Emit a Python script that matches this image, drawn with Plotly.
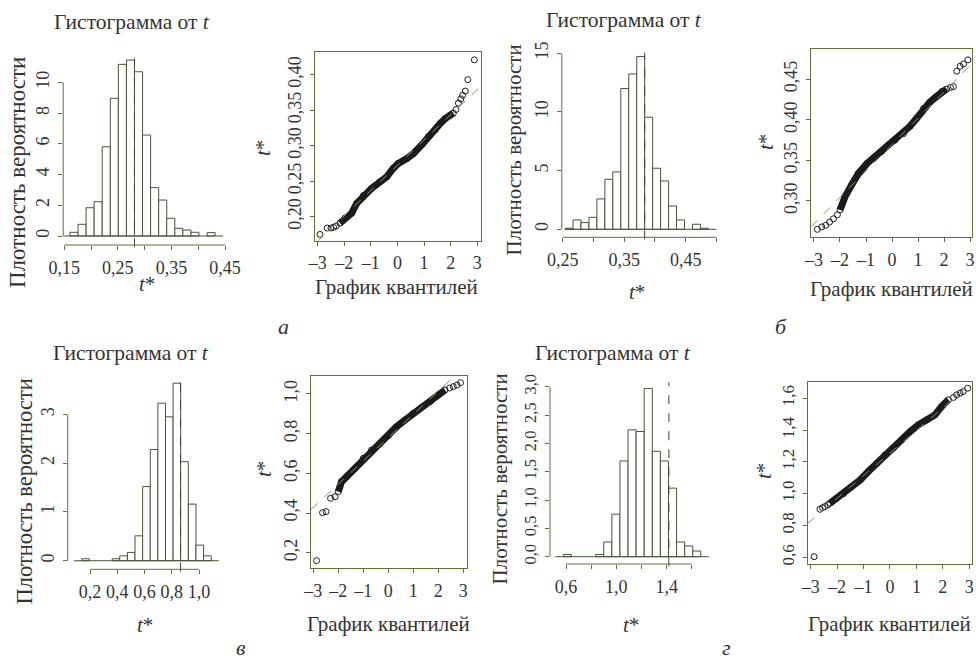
import plotly.graph_objects as go

W, H = 976, 662
FONT = "Liberation Serif"
TXT = "#333333"
AX = "#5f6f3c"
BARLINE = "#46553a"
PT = "#1b1b1b"
REF = "#7f9a5e"

# ---------------- data ----------------
# histogram a
hist_a_edges = [0.1456, 0.1606, 0.1757, 0.1907, 0.2058, 0.2208, 0.2359, 0.2509, 0.2660, 0.2810, 0.2961,
                0.3111, 0.3262, 0.3412, 0.3563, 0.3713, 0.3864, 0.4014, 0.4165, 0.4315, 0.4466]
hist_a_density = [0, 0.24, 0.76, 1.84, 2.23, 5.81, 8.96, 11.17, 11.45, 10.69, 6.57, 3.15, 2.34, 1.15,
                  0.50, 0.39, 0.24, 0, 0.22, 0]
hist_a_t0 = 0.281
# histogram б
hist_b_edges = [0.2538, 0.2668, 0.2797, 0.2927, 0.3056, 0.3186, 0.3315, 0.3445, 0.3574, 0.3704, 0.3833,
                0.3963, 0.4092, 0.4222, 0.4351, 0.4481, 0.4610, 0.4740, 0.4869, 0.4999]
hist_b_density = [0.09, 0.8, 0.57, 1.02, 2.59, 4.26, 4.89, 12.0, 13.24, 14.72, 9.55, 5.2, 4.12, 1.99,
                  0.8, 0, 0.43, 0.09, 0]
hist_b_t0 = 0.3833
# histogram в
hist_c_edges = [0.0831, 0.1390, 0.1949, 0.2508, 0.3067, 0.3626, 0.4185, 0.4744, 0.5303, 0.5862, 0.6421,
                0.6980, 0.7539, 0.8098, 0.8657, 0.9216, 0.9775, 1.0334, 1.0893, 1.1452]
hist_c_density = [0, 0.04, 0, 0, 0, 0.04, 0.1, 0.17, 0.51, 1.52, 2.28, 3.23, 2.95, 3.64, 2.03, 1.16,
                  0.32, 0.1, 0]
hist_c_t0 = 0.864
# histogram г
hist_d_edges = [0.5145, 0.5788, 0.6431, 0.7074, 0.7717, 0.8360, 0.9003, 0.9646, 1.0289, 1.0932, 1.1575,
                1.2218, 1.2861, 1.3504, 1.4147, 1.4790, 1.5433, 1.6076, 1.6719, 1.7362]
hist_d_density = [0, 0.04, 0, 0, 0, 0.04, 0.26, 0.75, 1.69, 2.24, 2.21, 2.97, 1.86, 1.69, 1.21, 0.26,
                  0.19, 0.1, 0]
hist_d_t0 = 1.418

# normal QQ plots: theoretical quantile, ordered t*
qq_a_x = [-2.91, -2.64, -2.50, -2.40, -2.30, -2.16, -1.97, -1.72, -1.53, -1.28, -0.97, -0.66, -0.41, -0.16,
          0.03, 0.35, 0.60, 0.91, 1.16, 1.41, 1.60, 1.79, 1.97, 2.10, 2.20, 2.29, 2.38, 2.45, 2.55, 2.64, 2.89]
qq_a_y = [0.175, 0.184, 0.184, 0.185, 0.187, 0.191, 0.198, 0.205, 0.219, 0.230, 0.240, 0.249, 0.256, 0.268,
          0.275, 0.282, 0.289, 0.301, 0.313, 0.322, 0.331, 0.338, 0.343, 0.346, 0.351, 0.360, 0.366, 0.371,
          0.377, 0.393, 0.421]
qq_a_mean, qq_a_sd = 0.2725, 0.0356

qq_b_x = [-2.87, -2.70, -2.55, -2.40, -2.25, -2.10, -2.00, -1.81, -1.55, -1.29, -0.97, -0.72, -0.40, -0.14,
          0.12, 0.44, 0.69, 0.95, 1.21, 1.46, 1.72, 1.91, 2.10, 2.25, 2.36, 2.49, 2.62, 2.75, 2.92]
qq_b_y = [0.265, 0.268, 0.270, 0.274, 0.278, 0.283, 0.289, 0.305, 0.320, 0.334, 0.346, 0.353, 0.361, 0.369,
          0.375, 0.383, 0.392, 0.402, 0.414, 0.422, 0.429, 0.435, 0.438, 0.440, 0.441, 0.460, 0.466, 0.469,
          0.474]
qq_b_mean, qq_b_sd = 0.3695, 0.0325

qq_c_x = [-2.87, -2.63, -2.49, -2.31, -2.13, -2.00, -1.87, -1.67, -1.33, -1.00, -0.67, -0.33, 0.00, 0.33,
          0.67, 1.00, 1.33, 1.67, 2.00, 2.27, 2.45, 2.60, 2.75, 2.89]
qq_c_y = [0.160, 0.402, 0.407, 0.474, 0.482, 0.508, 0.558, 0.583, 0.625, 0.676, 0.718, 0.751, 0.790, 0.835,
          0.869, 0.903, 0.933, 0.961, 0.995, 1.020, 1.030, 1.037, 1.045, 1.057]
qq_c_mean, qq_c_sd = 0.78, 0.117

qq_d_x = [-2.87, -2.65, -2.55, -2.46, -2.35, -2.27, -2.02, -1.76, -1.45, -1.13, -0.82, -0.50, -0.19, 0.13,
          0.44, 0.76, 1.07, 1.39, 1.70, 1.95, 2.21, 2.40, 2.52, 2.65, 2.77, 2.94]
qq_d_y = [0.604, 0.902, 0.912, 0.919, 0.930, 0.940, 0.971, 1.000, 1.044, 1.086, 1.139, 1.191, 1.244, 1.286,
          1.338, 1.390, 1.432, 1.464, 1.495, 1.548, 1.590, 1.605, 1.621, 1.632, 1.642, 1.663]
qq_d_mean, qq_d_sd = 1.255, 0.142

# tick values / labels
hist_a_xt = [0.15, 0.20, 0.25, 0.30, 0.35, 0.40, 0.45]
hist_a_xl = ["0,15", "", "0,25", "", "0,35", "", "0,45"]
hist_a_yt = [0, 2, 4, 6, 8, 10]
hist_a_yl = ["0", "2", "4", "6", "8", "10"]
hist_b_xt = [0.25, 0.30, 0.35, 0.40, 0.45, 0.50]
hist_b_xl = ["0,25", "", "0,35", "", "0,45", ""]
hist_b_yt = [0, 5, 10, 15]
hist_b_yl = ["0", "5", "10", "15"]
hist_c_xt = [0.2, 0.4, 0.6, 0.8, 1.0]
hist_c_xl = ["0,2", "0,4", "0,6", "0,8", "1,0"]
hist_c_yt = [0, 1, 2, 3]
hist_c_yl = ["0", "1", "2", "3"]
hist_d_xt = [0.6, 0.8, 1.0, 1.2, 1.4, 1.6]
hist_d_xl = ["0,6", "", "1,0", "", "1,4", ""]
hist_d_yt = [0.0, 0.5, 1.0, 1.5, 2.0, 2.5, 3.0]
hist_d_yl = ["0,0", "0,5", "1,0", "1,5", "2,0", "2,5", "3,0"]
qq_xt = [-3, -2, -1, 0, 1, 2, 3]
qq_xl = ["–3", "–2", "–1", "0", "1", "2", "3"]
qq_a_yt = [0.20, 0.25, 0.30, 0.35, 0.40]
qq_a_yl = ["0,20", "0,25", "0,30", "0,35", "0,40"]
qq_b_yt = [0.30, 0.35, 0.40, 0.45]
qq_b_yl = ["0,30", "0,35", "0,40", "0,45"]
qq_c_yt = [0.2, 0.4, 0.6, 0.8, 1.0]
qq_c_yl = ["0,2", "0,4", "0,6", "0,8", "1,0"]
qq_d_yt = [0.6, 0.8, 1.0, 1.2, 1.4, 1.6]
qq_d_yl = ["0,6", "0,8", "1,0", "1,2", "1,4", "1,6"]

TITLE = "Гистограмма от <i>t</i>"
YHIST = "Плотность вероятности"
QQX = "График квантилей"
TSTAR = "<i>t</i>*"

# ---------------- layout of panels (pixel boxes: left, right, top, bottom) ----------------
hist_panels = [
    dict(n=1, edges=hist_a_edges, dens=hist_a_density, t0=hist_a_t0, xt=hist_a_xt, xl=hist_a_xl,
         yt=hist_a_yt, yl=hist_a_yl, xr=[0.148, 0.455], yr=[-0.586, 11.91], box=(63.2, 227.7, 53, 245), yfs=18),
    dict(n=3, edges=hist_b_edges, dens=hist_b_density, t0=hist_b_t0, xt=hist_b_xt, xl=hist_b_xl,
         yt=hist_b_yt, yl=hist_b_yl, xr=[0.2485, 0.505], yr=[-0.682, 15.05], box=(561.8, 719.5, 52.7, 237.3),
         yfs=18),
    dict(n=5, edges=hist_c_edges, dens=hist_c_density, t0=hist_c_t0, xt=hist_c_xt, xl=hist_c_xl,
         yt=hist_c_yt, yl=hist_c_yl, xr=[0.0363, 1.19], yr=[-0.176, 3.74], box=(67.7, 224.9, 378.3, 569.3),
         yfs=18),
    dict(n=7, edges=hist_d_edges, dens=hist_d_density, t0=hist_d_t0, xt=hist_d_xt, xl=hist_d_xl,
         yt=hist_d_yt, yl=hist_d_yl, xr=[0.4728, 1.775], yr=[-0.129, 3.08], box=(550, 713.8, 382.2, 564),
         yfs=16.5),
]
qq_panels = [
    dict(n=2, x=qq_a_x, y=qq_a_y, m=qq_a_mean, s=qq_a_sd, yt=qq_a_yt, yl=qq_a_yl, band=(-2.2, 2.15),
         xr=[-3.10, 3.128], yr=[0.1662, 0.4316], box=(315, 480.7, 52.3, 240.7), yfs=18),
    dict(n=4, x=qq_b_x, y=qq_b_y, m=qq_b_mean, s=qq_b_sd, yt=qq_b_yt, yl=qq_b_yl, band=(-2.0, 2.15),
         xr=[-3.115, 3.088], yr=[0.2552, 0.487], box=(811, 972.3, 49.3, 237.3), yfs=18),
    dict(n=6, x=qq_c_x, y=qq_c_y, m=qq_c_mean, s=qq_c_sd, yt=qq_c_yt, yl=qq_c_yl, band=(-2.0, 2.3),
         xr=[-3.092, 3.136], yr=[0.1214, 1.0907], box=(311, 466.7, 376, 568.3), yfs=18),
    dict(n=8, x=qq_d_x, y=qq_d_y, m=qq_d_mean, s=qq_d_sd, yt=qq_d_yt, yl=qq_d_yl, band=(-2.3, 2.3),
         xr=[-3.113, 3.091], yr=[0.558, 1.704], box=(807.7, 971.7, 381.7, 564), yfs=17),
]

fig = go.Figure()
shapes = []
layout_axes = {}


def sfx(n):
    return "" if n == 1 else str(n)


def domains(box):
    l, r, t, b = box
    return [l / W, r / W], [1 - b / H, 1 - t / H]


def tf(size):
    return dict(family=FONT, size=size, color=TXT)


common = dict(ticks="outside", ticklen=4, tickcolor=AX, showgrid=False, zeroline=False, automargin=False)

for p in hist_panels:
    s = sfx(p["n"])
    e = p["edges"]
    cx, wd, hy = [], [], []
    for i, d in enumerate(p["dens"]):
        if d > 0:
            cx.append((e[i] + e[i + 1]) / 2)
            wd.append(e[i + 1] - e[i])
            hy.append(d)
    fig.add_trace(go.Bar(x=cx, y=hy, width=wd, marker=dict(color="white", line=dict(color=BARLINE, width=1)),
                         xaxis="x" + s, yaxis="y" + s, hoverinfo="skip"))
    # zero-height bins -> baseline
    shapes.append(dict(type="line", xref="x" + s, yref="y" + s, x0=e[0], x1=e[-1], y0=0, y1=0,
                       line=dict(color=BARLINE, width=1)))
    # t0 dashed
    shapes.append(dict(type="line", xref="x" + s, yref="y" + s + " domain", x0=p["t0"], x1=p["t0"],
                       y0=-0.012, y1=1, line=dict(color="#3a4630", width=1, dash="dash")))
    # R-style axis lines spanning the ticks
    shapes.append(dict(type="line", xref="x" + s, yref="y" + s + " domain", x0=p["xt"][0], x1=p["xt"][-1],
                       y0=0, y1=0, line=dict(color=AX, width=1)))
    shapes.append(dict(type="line", xref="x" + s + " domain", yref="y" + s, x0=0, x1=0, y0=p["yt"][0],
                       y1=p["yt"][-1], line=dict(color=AX, width=1)))
    dx, dy = domains(p["box"])
    layout_axes["xaxis" + s] = dict(domain=dx, range=p["xr"], anchor="y" + s, tickvals=p["xt"], ticktext=p["xl"],
                                    showline=False, ticklabelstandoff=2, tickfont=tf(18), **common)
    layout_axes["yaxis" + s] = dict(domain=dy, range=p["yr"], anchor="x" + s, tickvals=p["yt"], ticktext=p["yl"],
                                    showline=False, tickangle=-90, ticklabelstandoff=2, tickfont=tf(p["yfs"]),
                                    **common)

for p in qq_panels:
    s = sfx(p["n"])
    lo, hi = p["band"]
    bx = [x for x in p["x"] if lo <= x <= hi]
    by = [y for x, y in zip(p["x"], p["y"]) if lo <= x <= hi]
    fig.add_trace(go.Scatter(x=bx, y=by, mode="lines", line=dict(color=PT, width=7),
                             xaxis="x" + s, yaxis="y" + s, hoverinfo="skip"))
    fig.add_trace(go.Scatter(x=p["x"], y=p["y"], mode="markers",
                             marker=dict(symbol="circle-open", size=6, color=PT, line=dict(width=1)),
                             xaxis="x" + s, yaxis="y" + s, hoverinfo="skip"))
    x0, x1 = p["xr"]
    fig.add_trace(go.Scatter(x=[x0, x1], y=[p["m"] + p["s"] * x0, p["m"] + p["s"] * x1], mode="lines",
                             line=dict(color=REF, width=1, dash="dash"), xaxis="x" + s, yaxis="y" + s,
                             hoverinfo="skip"))
    dx, dy = domains(p["box"])
    layout_axes["xaxis" + s] = dict(domain=dx, range=p["xr"], anchor="y" + s, tickvals=qq_xt, ticktext=qq_xl,
                                    showline=True, mirror=True, linecolor=AX, linewidth=1,
                                    ticklabelstandoff=2, tickfont=tf(18), **common)
    layout_axes["yaxis" + s] = dict(domain=dy, range=p["yr"], anchor="x" + s, tickvals=p["yt"], ticktext=p["yl"],
                                    showline=True, mirror=True, linecolor=AX, linewidth=1,
                                    tickangle=-90, ticklabelstandoff=2, tickfont=tf(p["yfs"]), **common)

annotations = []


def ann(text, px, py, size=21, angle=0, yanchor="middle"):
    annotations.append(dict(text=text, x=px / W, y=1 - py / H, xref="paper", yref="paper", showarrow=False,
                            xanchor="center", yanchor=yanchor, textangle=angle,
                            font=dict(family=FONT, size=size, color=TXT)))


for (px, py) in [(131.7, 22), (624, 20), (131, 353), (613, 353)]:
    ann(TITLE, px, py, 21.5)
for (px, py, fs) in [(17.5, 172.5, 23), (513.5, 150, 21), (23.5, 492, 22.5), (499.5, 479, 21)]:
    ann(YHIST, px, py, fs, -90)
for (px, py) in [(146.7, 284), (637, 292), (145, 625), (631, 625)]:
    ann(TSTAR, px, py, 21)
for (px, py) in [(263, 148), (766, 142), (264, 469), (764, 471)]:
    ann(TSTAR, px, py, 21, -90)
for (px, py) in [(396.7, 287), (891, 289), (388, 624), (889, 624)]:
    ann(QQX, px, py, 21)
for t, (px, py) in zip(["<i>а</i>", "<i>б</i>"], [(283, 326), (781, 326)]):
    ann(t, px, py, 22)
for t, px in zip(["<i>в</i>", "<i>г</i>"], [241, 726]):
    ann(t, px, 662, 22, 0, "bottom")

fig.update_layout(template="none", width=W, height=H, margin=dict(l=0, r=0, t=0, b=0),
                  paper_bgcolor="white", plot_bgcolor="white", showlegend=False, shapes=shapes,
                  annotations=annotations, **layout_axes)
fig.write_html("out.html")
